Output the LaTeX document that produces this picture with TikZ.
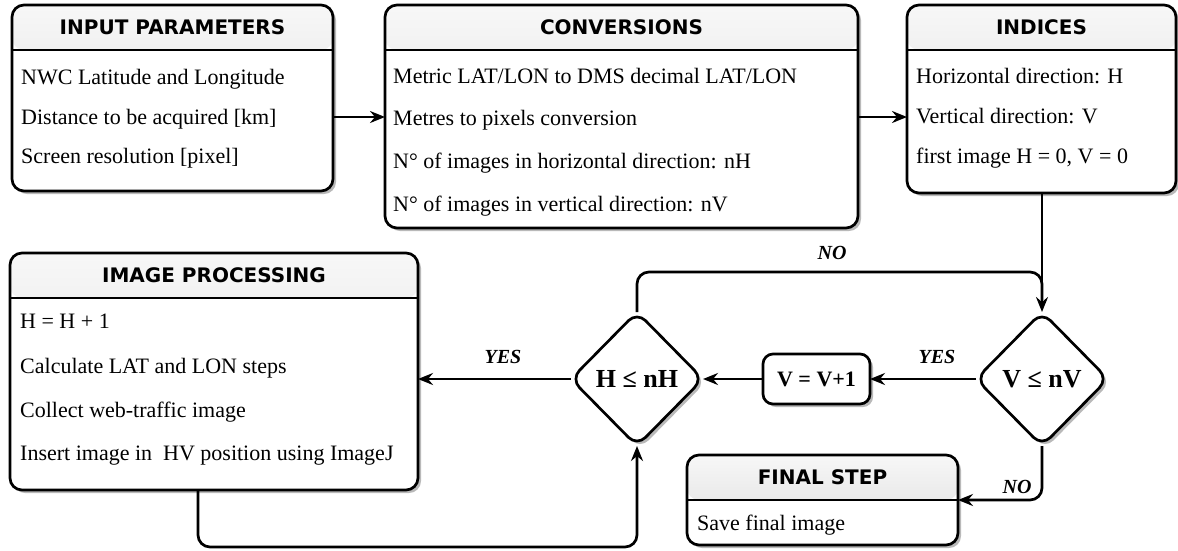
\documentclass[tikz,border=0pt]{standalone}
\usepackage{fontspec}
\setmainfont{Liberation Serif}
\newfontfamily\headfont{DejaVu Sans}
\usetikzlibrary{shapes.geometric,arrows.meta,shadows}

\begin{document}
\begin{tikzpicture}[x=1pt,y=-1pt,
  shadowed/.style={drop shadow={shadow xshift=3pt,shadow yshift=-3pt,fill=gray!55,opacity=1}},
  panel/.style={draw,line width=2.7pt,rounded corners=12pt,fill=white,inner sep=0pt,outer sep=0pt,shadowed,
    path picture={
      \shade[top color=gray!6,bottom color=gray!28]
        (path picture bounding box.north west) rectangle ([yshift=-45pt]path picture bounding box.north east);
      \draw[line width=2.7pt]
        ([yshift=-45pt]path picture bounding box.north west) -- ([yshift=-45pt]path picture bounding box.north east);}},
  title/.style={font=\headfont\bfseries\fontsize{20}{24}\selectfont,inner sep=0pt},
  item/.style={anchor=base west,inner sep=0pt,font=\fontsize{22}{26}\selectfont},
  decision/.style={diamond,draw,line width=2.7pt,rounded corners=12pt,fill=white,inner sep=0pt,outer sep=0pt,aspect=1,
    minimum width=132pt,minimum height=134pt,shadowed,font=\bfseries\fontsize{26}{30}\selectfont},
  stepbox/.style={draw,line width=2.7pt,rounded corners=10pt,fill=white,inner sep=0pt,outer sep=0pt,
    minimum width=107pt,minimum height=50pt,shadowed,font=\bfseries\fontsize{22}{26}\selectfont},
  flow/.style={line width=2.7pt,-{Stealth[length=15pt,width=12pt,inset=5pt]}},
  tag/.style={font=\bfseries\itshape\fontsize{20}{24}\selectfont,inner sep=0pt}]

\useasboundingbox (0,0) rectangle (1178,550);

% ---- panels ----
\node[panel,minimum width=321pt,minimum height=186pt] (inp) at (172.5,98) {};
\node[title] (inpT) at (172.5,27.5) {INPUT PARAMETERS};
\node[item] (inp1) at (21,84) {NWC Latitude and Longitude};
\node[item] (inp2) at (21,124) {Distance to be acquired [km]};
\node[item] (inp3) at (21,163) {Screen resolution [pixel]};

\node[panel,minimum width=473pt,minimum height=223pt] (conv) at (621.5,116.5) {};
\node[title] (convT) at (621.5,27.5) {CONVERSIONS};
\node[item] (conv1) at (393,83) {Metric LAT/LON to DMS decimal LAT/LON};
\node[item] (conv2) at (393,125) {Metres to pixels conversion};
\node[item] (conv3) at (393,168) {N° of images in horizontal direction: nH};
\node[item] (conv4) at (393,211) {N° of images in vertical direction: nV};

\node[panel,minimum width=269pt,minimum height=188pt] (ind) at (1041.5,99) {};
\node[title] (indT) at (1041.5,27.5) {INDICES};
\node[item] (ind1) at (916,83) {Horizontal direction: H};
\node[item] (ind2) at (916,123) {Vertical direction: V};
\node[item] (ind3) at (916,163) {first image H = 0, V = 0};

\node[panel,minimum width=408pt,minimum height=237pt] (img) at (214,371.5) {};
\node[title] (imgT) at (214,275.5) {IMAGE PROCESSING};
\node[item] (img1) at (20,328) {H = H + 1};
\node[item] (img2) at (20,373) {Calculate LAT and LON steps};
\node[item] (img3) at (20,417) {Collect web-traffic image};
\node[item] (img4) at (20,460) {Insert image in\ \ HV position using ImageJ};

\node[panel,minimum width=271pt,minimum height=90pt] (fin) at (822.5,500) {};
\node[title] (finT) at (822.5,477.5) {FINAL STEP};
\node[item] (fin1) at (697,530) {Save final image};

% ---- decisions and counter ----
\node[decision] (hnh) at (637,379) {H ≤ nH};
\node[decision] (vnv) at (1042,379) {V ≤ nV};
\node[stepbox] (vv) at (816.5,379) {V = V+1};

% ---- connectors ----
\coordinate (rowA) at (0,117);
\coordinate (loopTop) at (1042,272);
\coordinate (loopJoin) at (1042,300);
\coordinate (backLow) at (198,547);

\draw[flow] (inp.east |- rowA) -- (conv.west |- rowA);
\draw[flow] (conv.east |- rowA) -- (ind.west |- rowA);
\draw[flow] (ind.south -| vnv.north) -- (vnv.north);
\draw[line width=2.7pt,rounded corners=12pt] (hnh.north) |- (loopTop) -- (loopJoin);
\draw[flow] (vnv.west) -- (vv.east);
\draw[flow] (vv.west) -- (hnh.east);
\draw[flow] (hnh.west) -- (img.east |- hnh.west);
\draw[flow,rounded corners=12pt] (img.south -| backLow) -- (backLow) -| (hnh.south);
\draw[flow,rounded corners=12pt] (vnv.south) |- (fin.east);

% ---- branch labels ----
\node[tag] (noTop) at (832,253) {NO};
\node[tag] (yesV) at (937,357) {YES};
\node[tag] (yesH) at (503,357) {YES};
\node[tag] (noLow) at (1017,487) {NO};
\end{tikzpicture}
\end{document}
